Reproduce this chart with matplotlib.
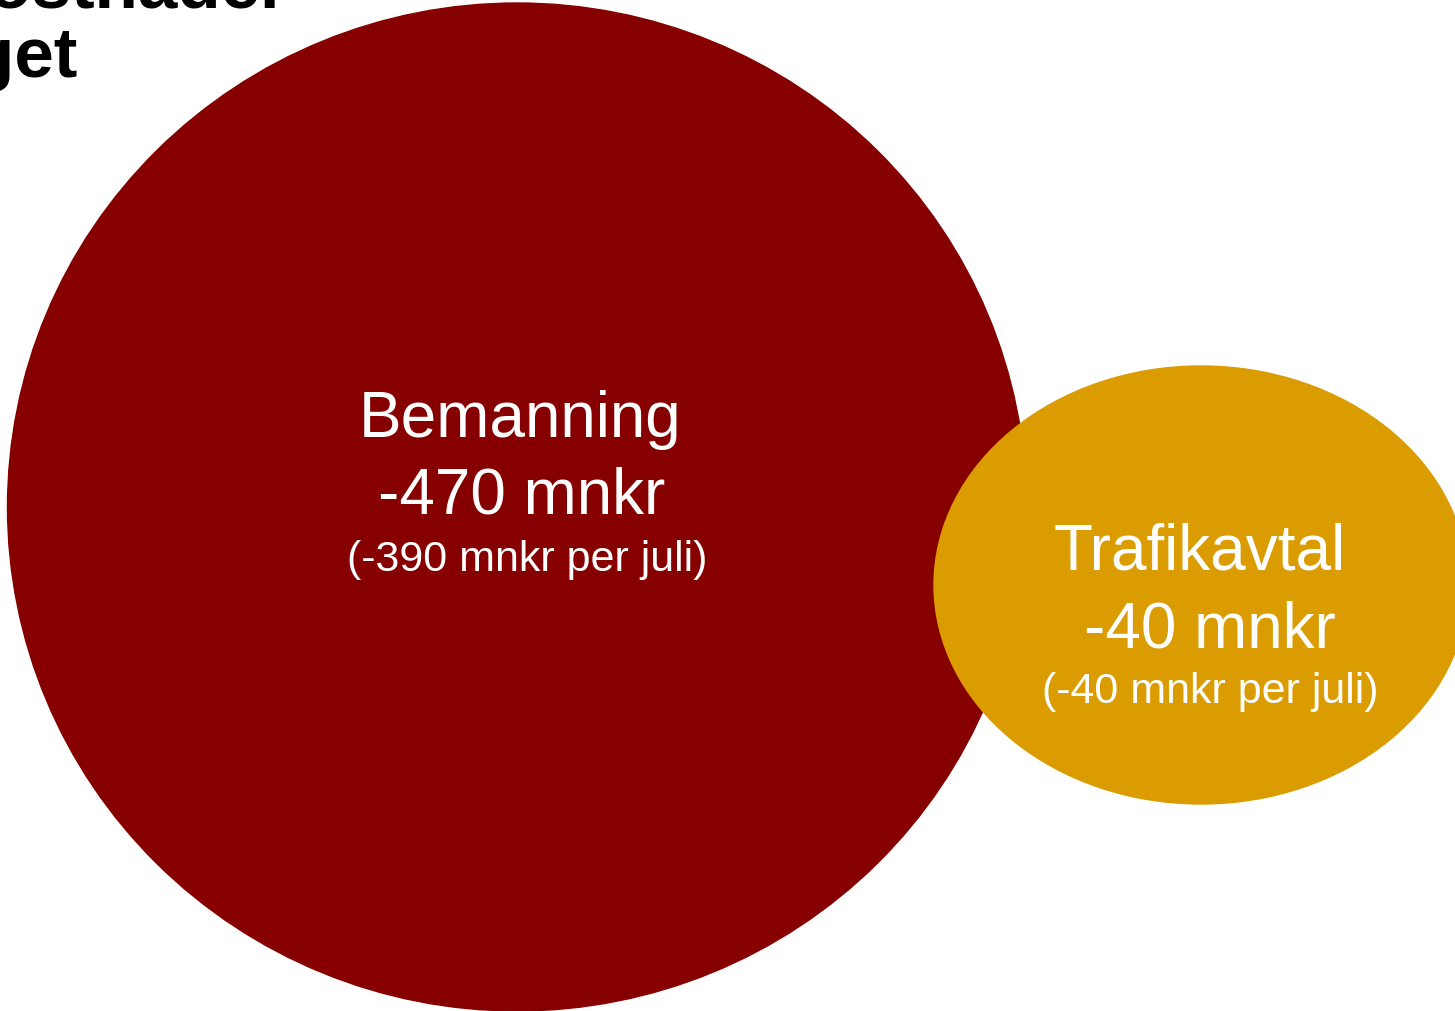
import matplotlib.pyplot as plt
from matplotlib.patches import Ellipse

plt.rcParams['font.family'] = ['Liberation Sans', 'DejaVu Sans']

# data
names = ['Bemanning', 'Trafikavtal']
values = [-470, -40]
per_juli = [-390, -40]
colors = ['#860000', '#DA9C00']

# layout (pixel coords, y down)
centers = [(517, 507), (1201, 585)]
widths = [1019, 534]
heights = [1008, 438]
label_x = [(520, 522, 527), (1200, 1210, 1210)]
label_y = [(420, 497, 560), (553, 630, 692)]

fig = plt.figure(figsize=(14.55, 10.11), dpi=100)
ax = fig.add_axes([0, 0, 1, 1])
ax.set_xlim(0, 1455)
ax.set_ylim(1011, 0)
ax.axis('off')

for i in range(len(names)):
    e = Ellipse(centers[i], widths[i], heights[i], color=colors[i], zorder=i + 1)
    ax.add_patch(e)
    ax.text(label_x[i][0], label_y[i][0], names[i], color='white', fontsize=46,
            ha='center', va='center', zorder=5)
    ax.text(label_x[i][1], label_y[i][1], '{} mnkr'.format(values[i]), color='white',
            fontsize=46, ha='center', va='center', zorder=5)
    ax.text(label_x[i][2], label_y[i][2], '({} mnkr per juli)'.format(per_juli[i]),
            color='white', fontsize=31, ha='center', va='center', zorder=5)

# title, cut off at the top-left edge as in the slide
ax.text(288, 7, 'Merkostnader', fontsize=51, fontweight='bold', ha='right',
        va='baseline', zorder=6)
ax.text(78, 77, 'budget', fontsize=51, fontweight='bold', ha='right',
        va='baseline', zorder=6)

fig.savefig('out.png', dpi=100)
